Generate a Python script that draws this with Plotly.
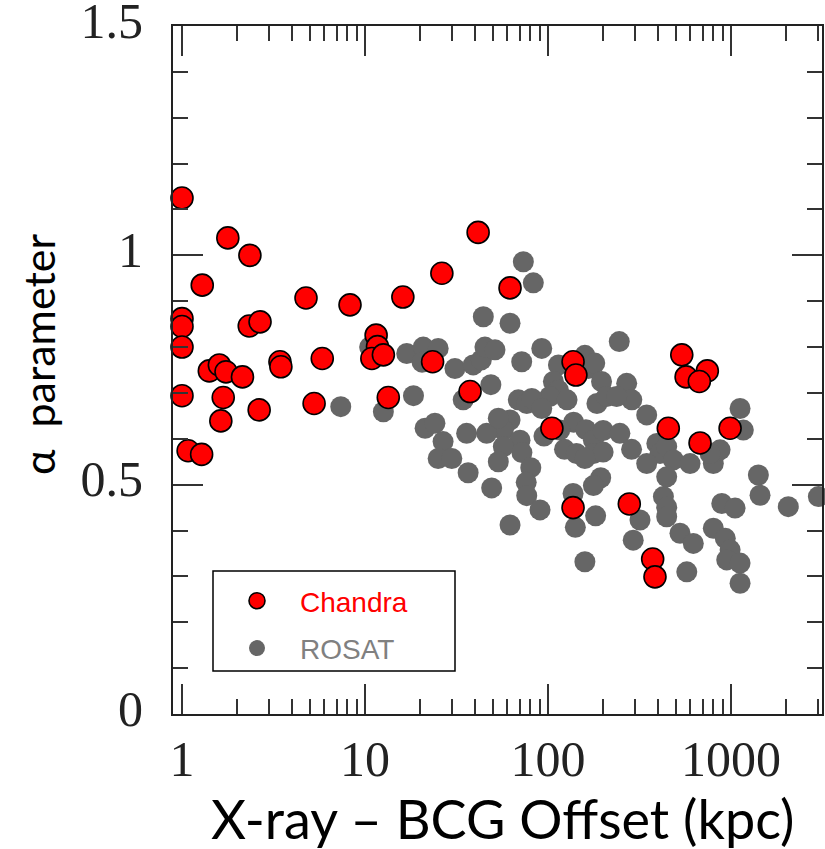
import plotly.graph_objects as go
import math

# ---------------- data ----------------
chandra_x = [1.0, 1.78, 2.35, 1.29, 4.76, 8.28, 16.1, 26.3, 41.5, 62,
             1.0, 1.0, 1.0, 1.0,
             2.33, 2.67,
             1.41, 1.60, 1.74, 2.14,
             3.43, 3.47, 5.84,
             11.5, 11.7, 10.9, 12.6,
             1.68, 1.63, 2.64, 5.27, 1.08, 1.28, 13.4,
             23.4, 137, 142, 37.5,
             105, 137,
             454, 677, 988, 278, 373, 384,
             538, 568, 742, 671]
chandra_y = [1.125, 1.038, 1.0, 0.935, 0.907, 0.892, 0.909, 0.961, 1.05, 0.929,
             0.862, 0.845, 0.80, 0.694,
             0.846, 0.855,
             0.748, 0.761, 0.746, 0.735,
             0.768, 0.757, 0.775,
             0.826, 0.801, 0.775, 0.783,
             0.69, 0.639, 0.663, 0.677, 0.574, 0.566, 0.69,
             0.768, 0.768, 0.739, 0.703,
             0.623, 0.45,
             0.623, 0.591, 0.623, 0.458, 0.338, 0.299,
             0.783, 0.735, 0.748, 0.725]

rosat_x = [7.37, 12.6, 10.6, 16.9, 20.8, 25.1, 20.5, 31.0, 18.4, 34.4,
           21.3, 24.1, 26.7, 25.1, 29.8, 35.9, 36.6,
           39.0, 43.2, 45.2, 51.3, 44.3, 62, 73.3, 83.1, 92.4, 71.8, 48.7,
           114, 159, 166, 180, 196, 245, 107, 114, 269, 287,
           68.8, 76.5, 90.4, 102, 127, 185, 209, 237, 346,
           62, 57, 46.2, 53.5, 70.3, 57, 95, 123, 138, 161, 177, 200, 116,
           143, 177, 247, 286, 393, 409, 445, 484, 346, 597, 800, 871, 768,
           1120, 1167,
           49.2, 72, 80.5, 76, 76.5, 90.4, 62, 137, 182, 141, 159, 194, 177,
           292, 318, 445, 427, 445, 445, 526, 622, 573, 800, 930, 988, 947,
           1120, 1120, 890, 1052, 1410, 1440, 2055, 3000,
           200, 53.5, 159, 81.5, 92.4]
rosat_y = [0.670, 0.659, 0.80, 0.786, 0.80, 0.797, 0.767, 0.753, 0.694, 0.685,
           0.623, 0.634, 0.594, 0.557, 0.557, 0.612, 0.526,
           0.761, 0.772, 0.80, 0.794, 0.866, 0.852, 0.986, 0.94, 0.797, 0.768, 0.718,
           0.761, 0.782, 0.753, 0.765, 0.725, 0.812, 0.725, 0.706, 0.721, 0.685,
           0.685, 0.677, 0.674, 0.692, 0.685, 0.677, 0.692, 0.692, 0.652,
           0.641, 0.619, 0.612, 0.645, 0.597, 0.583, 0.606, 0.577, 0.636, 0.62, 0.597, 0.618, 0.619,
           0.568, 0.568, 0.612, 0.577, 0.590, 0.568, 0.583, 0.554, 0.546, 0.546, 0.546, 0.576, 0.568,
           0.666, 0.619,
           0.493, 0.57, 0.537, 0.505, 0.476, 0.445, 0.412, 0.481, 0.432, 0.407, 0.332, 0.515, 0.498,
           0.379, 0.423, 0.517, 0.474, 0.451, 0.430, 0.394, 0.372, 0.310, 0.405, 0.383, 0.358, 0.336,
           0.329, 0.285, 0.459, 0.449, 0.521, 0.477, 0.452, 0.474,
           0.571, 0.550, 0.557, 0.688, 0.666]

x_tickvals = [1, 10, 100, 1000]
x_ticktext = ["1", "10", "100", "1000"]
x_minor = [m * d for d in (1, 10, 100, 1000) for m in range(2, 10) if m * d <= 3000]
y_tickvals = [0, 0.5, 1, 1.5]
y_ticktext = ["0", "0.5", "1", "1.5"]

# ---------------- figure ----------------
W, H = 825, 849
L, R, T, B = 173, 3, 26, 135
pw, ph = W - L - R, H - T - B

def px2paper(px, py):
    return (px - L) / pw, (H - B - py) / ph

fig = go.Figure()
fig.add_trace(go.Scatter(
    x=rosat_x, y=rosat_y, mode="markers", name="<span style='color:#808080'>ROSAT</span>",
    marker=dict(size=21, color="rgb(102,102,102)", line=dict(width=0)),
    legendgroup="r", legendrank=2, cliponaxis=False))
fig.add_trace(go.Scatter(
    x=chandra_x, y=chandra_y, mode="markers", name="<span style='color:#ff0000'>Chandra</span>",
    marker=dict(size=22, color="#ff0000", line=dict(width=1.6, color="black")),
    legendgroup="c", legendrank=1, cliponaxis=False))

tickcol = "#333333"
fig.update_xaxes(
    type="log", range=[math.log10(0.893), math.log10(3140)],
    tickmode="array", tickvals=x_tickvals, ticktext=x_ticktext,
    ticks="inside", ticklen=30, tickwidth=2, tickcolor=tickcol,
    minor=dict(tickmode="array", tickvals=x_minor, ticks="inside", ticklen=15,
               tickwidth=2, tickcolor=tickcol, showgrid=False),
    showline=True, linecolor="#222", linewidth=2, mirror="allticks",
    showgrid=False, zeroline=False, automargin=False,
    tickfont=dict(family="Liberation Serif", size=50, color="#222"),
    ticklabelstandoff=0, ticklabeloverflow="allow",
)
fig.update_yaxes(
    range=[0, 1.5], tickmode="array", tickvals=y_tickvals, ticktext=y_ticktext,
    ticks="inside", ticklen=30, tickwidth=2, tickcolor=tickcol,
    minor=dict(dtick=0.1, ticks="inside", ticklen=15, tickwidth=2,
               tickcolor=tickcol, showgrid=False),
    showline=True, linecolor="#222", linewidth=2, mirror="allticks",
    showgrid=False, zeroline=False, automargin=False,
    tickfont=dict(family="Liberation Serif", size=50, color="#222"),
    ticklabelstandoff=18, ticklabelshift=-6, ticklabeloverflow="allow",
)

# legend box
x0, y0 = px2paper(213, 671)
x1, y1 = px2paper(455, 571)
fig.add_shape(type="rect", xref="paper", yref="paper", x0=x0, y0=y0, x1=x1, y1=y1,
              line=dict(color="black", width=1.5), fillcolor="white", layer="below")

lx, ly = px2paper(214, 576)
fig.update_layout(
    width=W, height=H, margin=dict(l=L, r=R, t=T, b=B),
    paper_bgcolor="white", plot_bgcolor="white",
    showlegend=True,
    legend=dict(x=lx, y=ly, xanchor="left", yanchor="top", bgcolor="rgba(0,0,0,0)",
                borderwidth=0, font=dict(family="Liberation Sans", size=28),
                tracegroupgap=8, itemwidth=76),
)

ax, ay = px2paper(38, 354)
fig.add_annotation(text="α  parameter", xref="paper", yref="paper", x=ax, y=ay,
                   xanchor="center", yanchor="middle",
                   showarrow=False, textangle=-90,
                   font=dict(family="Lato", size=43, color="black"))
bx, by = px2paper(502, 818)
fig.add_annotation(text="X-ray – BCG Offset (kpc)", xref="paper", yref="paper", x=bx, y=by,
                   xanchor="center", yanchor="middle",
                   showarrow=False, font=dict(family="Lato", size=54, color="black"))

fig.write_html("out.html")
